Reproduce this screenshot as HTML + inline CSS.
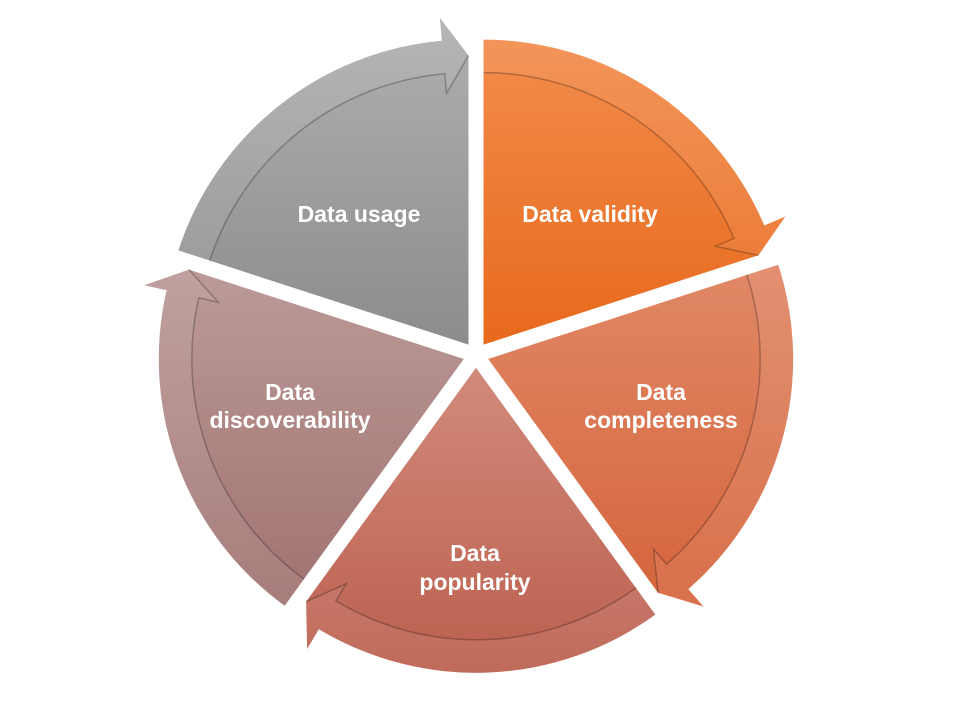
<!DOCTYPE html>
<html><head><meta charset="utf-8">
<style>
html,body{margin:0;padding:0;background:#fff;width:960px;height:720px;overflow:hidden}
text{font-family:"Liberation Sans",sans-serif;font-weight:bold;font-size:23px;fill:#fff;text-anchor:middle}
</style></head>
<body>
<svg id="s" width="960" height="720" viewBox="0 0 960 720" xmlns="http://www.w3.org/2000/svg">
<defs>
<linearGradient id="g0" x1="0" y1="0" x2="0" y2="1"><stop offset="0" stop-color="#f28c4c"/><stop offset="1" stop-color="#e8691c"/></linearGradient>
<linearGradient id="g1" x1="0" y1="0" x2="0" y2="1"><stop offset="0" stop-color="#e08866"/><stop offset="1" stop-color="#d5643c"/></linearGradient>
<linearGradient id="g2" x1="0" y1="0" x2="0" y2="1"><stop offset="0" stop-color="#d28a7a"/><stop offset="1" stop-color="#bb5f4e"/></linearGradient>
<linearGradient id="g3" x1="0" y1="0" x2="0" y2="1"><stop offset="0" stop-color="#bb9a98"/><stop offset="1" stop-color="#a07270"/></linearGradient>
<linearGradient id="g4" x1="0" y1="0" x2="0" y2="1"><stop offset="0" stop-color="#b0b0b0"/><stop offset="1" stop-color="#8c8c8c"/></linearGradient>
</defs>
<g id="w"></g>
<text x="590" y="222">Data validity</text>
<text x="359" y="222">Data usage</text>
<text x="661" y="400">Data</text><text x="661" y="428">completeness</text>
<text x="475" y="561">Data</text><text x="475" y="590">popularity</text>
<text x="290" y="400">Data</text><text x="290" y="428">discoverability</text>
</svg>
<script>
var C=[476,355],off=12.8,g=document.getElementById('w'),h='';
function P(a,r,t){t=t*Math.PI/180;return (a[0]+r*Math.sin(t)).toFixed(1)+','+(a[1]-r*Math.cos(t)).toFixed(1);}
for(var k=0;k<5;k++){
 var t0=k*72,b=(t0+36)*Math.PI/180;
 var A=[C[0]+off*Math.sin(b),C[1]-off*Math.cos(b)];
 var body='M'+P(A,0,0)+' L'+P(A,305,t0)+' A305,305 0 0 1 '+P(A,305,t0+67)+' L'+P(A,328,t0+67)+' L'+P(A,289,t0+72)+' Z';
 var band='M'+P(A,305,t0)+' A305,305 0 0 1 '+P(A,305,t0+67)+' L'+P(A,328,t0+67)+' L'+P(A,289,t0+72)+' L'+P(A,252,t0+67)+' L'+P(A,272,t0+67)+' A272,272 0 0 0 '+P(A,272,t0)+' Z';
 var line='M'+P(A,272,t0)+' A272,272 0 0 1 '+P(A,272,t0+67)+' L'+P(A,252,t0+67)+' L'+P(A,289,t0+72);
 h+='<path d="'+body+'" fill="url(#g'+k+')"/>';
 h+='<path d="'+band+'" fill="#fff" fill-opacity="0.08"/>';
 h+='<path d="'+line+'" fill="none" stroke="#000" stroke-opacity="0.25" stroke-width="1.5"/>';
}
g.innerHTML=h;
</script>
</body></html>
